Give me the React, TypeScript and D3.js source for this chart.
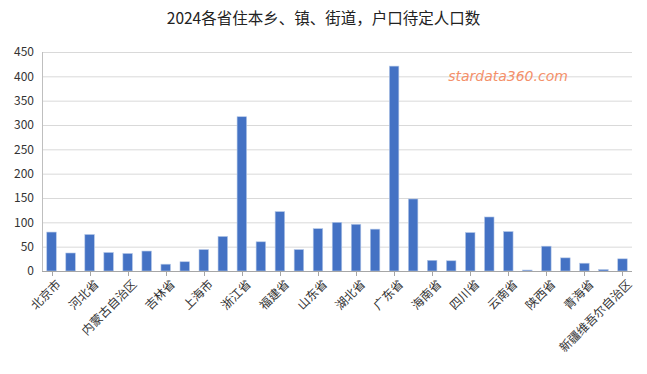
import * as d3 from "d3";
import { useEffect, useRef } from "react";

const provinces = [
  "北京市", "天津市", "河北省", "山西省", "内蒙古自治区", "辽宁省", "吉林省", "黑龙江省",
  "上海市", "江苏省", "浙江省", "安徽省", "福建省", "江西省", "山东省", "河南省",
  "湖北省", "湖南省", "广东省", "广西壮族自治区", "海南省", "重庆市", "四川省", "贵州省",
  "云南省", "西藏自治区", "陕西省", "甘肃省", "青海省", "宁夏回族自治区", "新疆维吾尔自治区",
];
const counts = [
  80, 37, 75, 38, 36, 41, 14, 19,
  44, 71, 317, 60, 122, 44, 87, 100,
  96, 86, 421, 148, 22, 21, 79, 111,
  81, 2, 51, 27, 16, 3, 25,
];
const yTicks = [0, 50, 100, 150, 200, 250, 300, 350, 400, 450];

const W = 647;
const H = 374;
const font = "'Noto Sans CJK SC', 'Noto Sans', sans-serif";

const App = () => {
  const ref = useRef<SVGSVGElement>(null);

  useEffect(() => {
    const svg = d3.select(ref.current);
    svg.selectAll("*").remove();

    const margin = { top: 52, bottom: 103, left: 42, right: 15 };
    const bw = W - margin.left - margin.right;
    const bh = H - margin.top - margin.bottom;

    const x = d3.scaleBand().domain(provinces).range([0, bw]).paddingInner(0.5).paddingOuter(0.25);
    const y = d3.scaleLinear().domain([0, 450]).range([bh, 0]);

    svg.append("text")
      .attr("x", W / 2)
      .attr("y", 24)
      .attr("text-anchor", "middle")
      .style("font-family", font)
      .style("font-size", "15.5px")
      .style("fill", "#222")
      .text("2024各省住本乡、镇、街道，户口待定人口数");

    const g = svg.append("g").attr("transform", `translate(${margin.left},${margin.top})`);

    // gridlines
    g.selectAll(".grid")
      .data(yTicks.slice(1))
      .enter()
      .append("line")
      .attr("x1", 0)
      .attr("x2", bw)
      .attr("y1", d => y(d) + 0.5)
      .attr("y2", d => y(d) + 0.5)
      .style("stroke", "#d9d9d9");

    g.selectAll(".ylab")
      .data(yTicks)
      .enter()
      .append("text")
      .attr("x", -8)
      .attr("y", d => y(d))
      .attr("dy", "0.35em")
      .attr("text-anchor", "end")
      .style("font-family", font)
      .style("font-size", "12px")
      .style("fill", "#333")
      .text(d => d);

    g.append("line")
      .attr("x1", 0.5).attr("x2", 0.5)
      .attr("y1", 0).attr("y2", bh)
      .style("stroke", "#bfbfbf");

    g.selectAll(".bar")
      .data(counts)
      .enter()
      .append("rect")
      .attr("x", (d, i) => x(provinces[i])!)
      .attr("y", d => y(d))
      .attr("width", x.bandwidth())
      .attr("height", d => bh - y(d))
      .style("fill", "#4472c4")
      .style("stroke", "#b4c7e7")
      .style("stroke-width", 0.6);

    g.append("line")
      .attr("x1", 0).attr("x2", bw)
      .attr("y1", bh + 0.5).attr("y2", bh + 0.5)
      .style("stroke", "#a6a6a6");

    const shown = provinces.filter((d, i) => i % 2 === 0);
    const cx = (p: string) => x(p)! + x.bandwidth() / 2;

    g.selectAll(".tick")
      .data(shown)
      .enter()
      .append("line")
      .attr("x1", d => Math.round(cx(d)) + 0.5)
      .attr("x2", d => Math.round(cx(d)) + 0.5)
      .attr("y1", bh)
      .attr("y2", bh + 5)
      .style("stroke", "#a6a6a6");

    g.selectAll(".xlab")
      .data(shown)
      .enter()
      .append("text")
      .attr("transform", d => `translate(${cx(d) + 7},${bh + 11}) rotate(-45)`)
      .attr("text-anchor", "end")
      .attr("dy", "0.35em")
      .style("font-family", font)
      .style("font-size", "12px")
      .style("fill", "#333")
      .text(d => d);

    svg.append("text")
      .attr("x", 508)
      .attr("y", 81)
      .attr("text-anchor", "middle")
      .style("font-family", "'DejaVu Sans', sans-serif")
      .style("font-style", "italic")
      .style("font-size", "14px")
      .style("fill", "#f4906a")
      .text("stardata360.com");
  }, []);

  return (
    <svg
      ref={ref}
      width={W}
      height={H}
      style={{ position: "absolute", left: 0, top: 0, background: "#fff" }}
    ></svg>
  );
};

export default App;
